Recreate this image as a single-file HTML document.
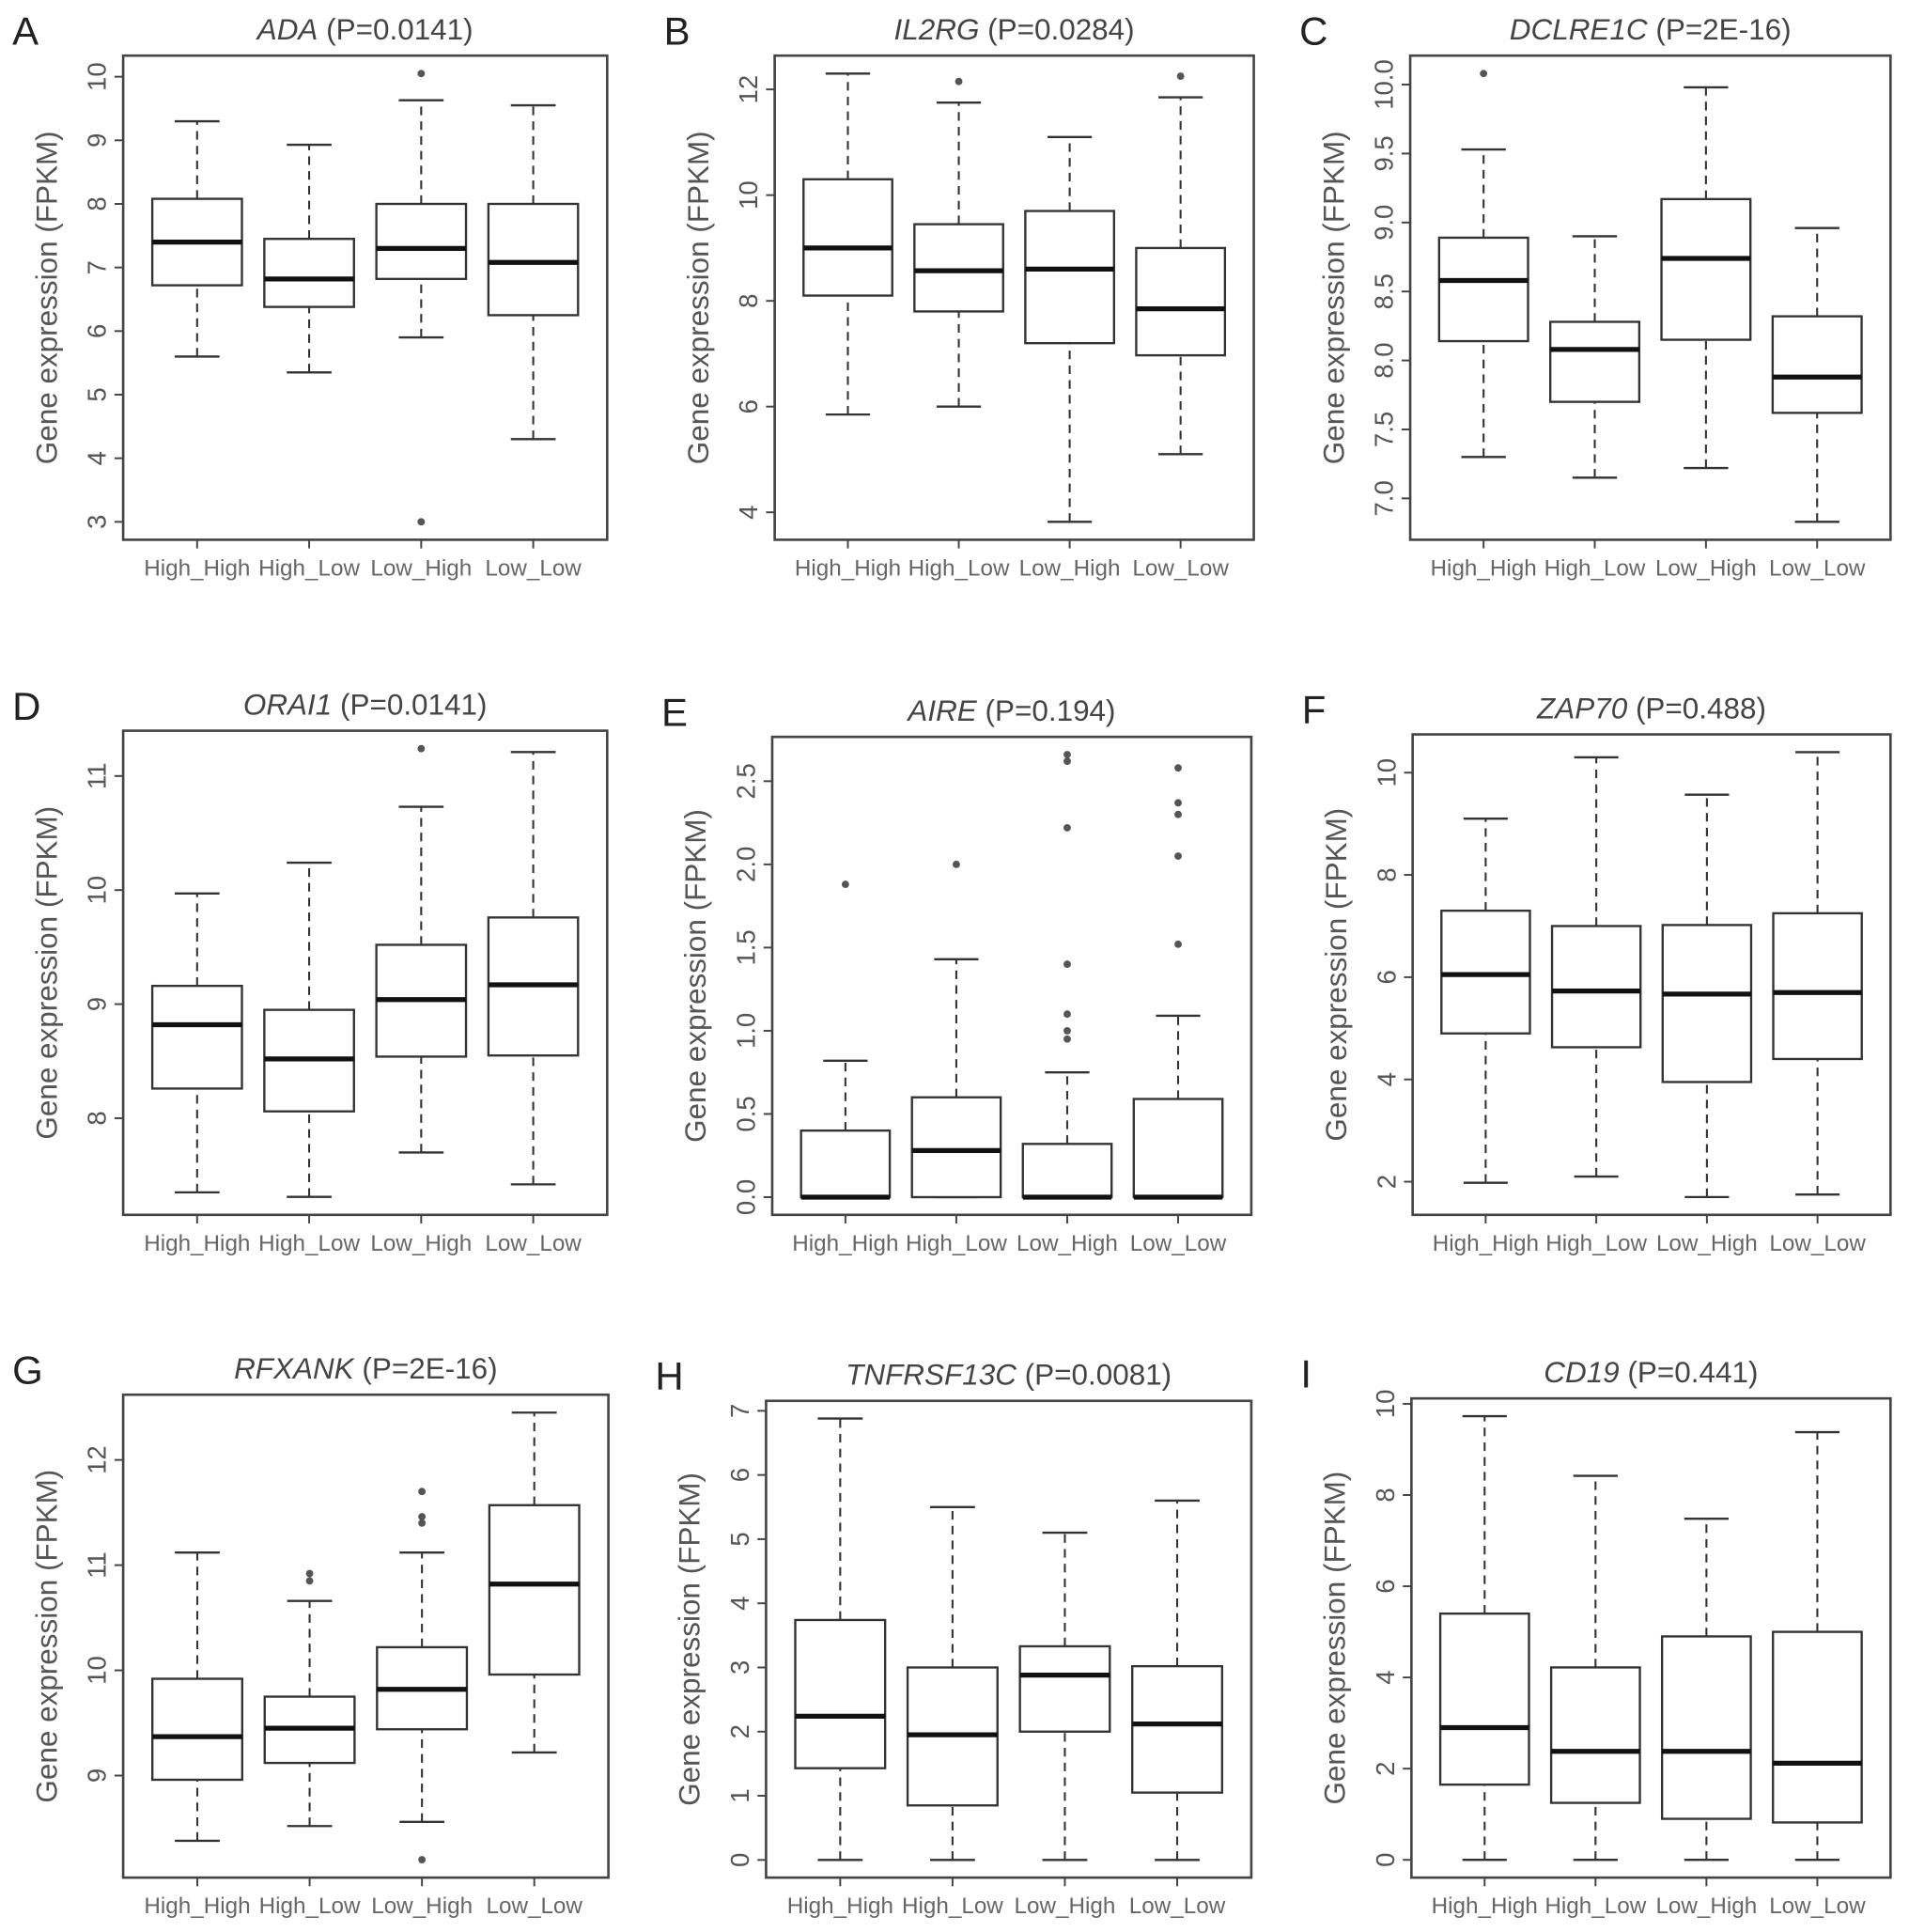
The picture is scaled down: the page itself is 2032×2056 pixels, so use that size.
<!DOCTYPE html>
<html><head><meta charset="utf-8"><style>
html,body{margin:0;padding:0;background:#fff;}
svg{display:block;font-family:"Liberation Sans",sans-serif;}
</style></head><body>
<svg id="fig" width="2032" height="2056" viewBox="0 0 1550 1568" xmlns="http://www.w3.org/2000/svg"></svg>
<script>
const categories = ["High_High","High_Low","Low_High","Low_Low"];
const genes = ["ADA","IL2RG","DCLRE1C","ORAI1","AIRE","ZAP70","RFXANK","TNFRSF13C","CD19"];
const pvalues = ["P=0.0141","P=0.0284","P=2E-16","P=0.0141","P=0.194","P=0.488","P=2E-16","P=0.0081","P=0.441"];
const letters = ["A","B","C","D","E","F","G","H","I"];
// each box: [min, q1, median, q3, max]
const statsA = [[5.6,6.72,7.4,8.08,9.3],[5.35,6.38,6.82,7.45,8.93],[5.9,6.82,7.3,8.0,9.63],[4.3,6.25,7.08,8.0,9.55]];
const outA = [[],[],[10.05,3.0],[]];
const statsB = [[5.85,8.1,9.0,10.3,12.3],[6.0,7.8,8.57,9.45,11.75],[3.82,7.2,8.6,9.7,11.1],[5.1,6.97,7.85,9.0,11.85]];
const outB = [[],[12.15],[],[12.25]];
const statsC = [[7.3,8.14,8.58,8.89,9.53],[7.15,7.7,8.08,8.28,8.9],[7.22,8.15,8.74,9.17,9.98],[6.83,7.62,7.88,8.32,8.96]];
const outC = [[10.08],[],[],[]];
const statsD = [[7.35,8.26,8.82,9.16,9.97],[7.31,8.06,8.52,8.95,10.24],[7.7,8.54,9.04,9.52,10.73],[7.42,8.55,9.17,9.76,11.21]];
const outD = [[],[],[11.24],[]];
const statsE = [[0,0,0,0.4,0.82],[0,0,0.28,0.6,1.43],[0,0,0,0.32,0.75],[0,0,0,0.59,1.09]];
const outE = [[1.88],[2.0],[0.95,1.0,1.1,1.4,2.22,2.62,2.66],[1.52,2.05,2.3,2.37,2.58]];
const statsF = [[1.98,4.9,6.05,7.3,9.1],[2.1,4.63,5.73,7.0,10.3],[1.7,3.95,5.67,7.02,9.57],[1.75,4.4,5.7,7.25,10.4]];
const outF = [[],[],[],[]];
const statsG = [[8.38,8.96,9.37,9.92,11.12],[8.52,9.12,9.45,9.75,10.66],[8.56,9.44,9.82,10.22,11.12],[9.22,9.96,10.82,11.57,12.45]];
const outG = [[],[10.85,10.92],[11.4,11.46,11.7,8.2],[]];
const statsH = [[0,1.43,2.24,3.74,6.88],[0,0.85,1.95,3.0,5.5],[0,2.0,2.88,3.33,5.1],[0,1.05,2.12,3.02,5.6]];
const outH = [[],[],[],[]];
const statsI = [[0,1.65,2.9,5.4,9.73],[0,1.25,2.38,4.22,8.42],[0,0.9,2.38,4.9,7.48],[0,0.82,2.12,5.0,9.38]];
const outI = [[],[],[],[]];
const ticksA = ["3","4","5","6","7","8","9","10"];
const ticksB = ["4","6","8","10","12"];
const ticksC = ["7.0","7.5","8.0","8.5","9.0","9.5","10.0"];
const ticksD = ["8","9","10","11"];
const ticksE = ["0.0","0.5","1.0","1.5","2.0","2.5"];
const ticksF = ["2","4","6","8","10"];
const ticksG = ["9","10","11","12"];
const ticksH = ["0","1","2","3","4","5","6","7"];
const ticksI = ["0","2","4","6","8","10"];

const allStats=[statsA,statsB,statsC,statsD,statsE,statsF,statsG,statsH,statsI];
const allOut=[outA,outB,outC,outD,outE,outF,outG,outH,outI];
const allTicks=[ticksA,ticksB,ticksC,ticksD,ticksE,ticksF,ticksG,ticksH,ticksI];
const rects=[[100,45,493,438],[629,45,1018,438],[1145,45,1535,438],
 [100,593,493,986],[627,598,1016,986],[1147,596,1535,986],
 [100,1132,494,1524],[622,1137,1016,1524],[1146,1135,1535,1524]];
const NS="http://www.w3.org/2000/svg";
const svg=document.getElementById('fig');
function mk(tag,attrs,parent,text){const e=document.createElementNS(NS,tag);for(const k in attrs)e.setAttribute(k,attrs[k]);if(text!==undefined)e.textContent=text;parent.appendChild(e);return e;}

for(let p=0;p<9;p++){
  const [x0,y0,x1,y1]=rects[p];
  const st=allStats[p],out=allOut[p],tk=allTicks[p];
  const g=mk('g',{},svg);
  
  
  let lo=Infinity,hi=-Infinity;
  st.forEach((s,i)=>{lo=Math.min(lo,s[0],...out[i]);hi=Math.max(hi,s[4],...out[i]);});
  const pad=(hi-lo)*0.04;lo-=pad;hi+=pad;
  const y=v=>y1-(v-lo)/(hi-lo)*(y1-y0);
  const xl=0.34,xh=categories.length+0.66;
  const x=v=>x0+(v-xl)/(xh-xl)*(x1-x0);
  const ux=(x1-x0)/(xh-xl);
  const frame=mk('rect',{x:x0,y:y0,width:x1-x0,height:y1-y0,fill:'none',stroke:'#444','stroke-width':2},g);
  
  
  const lt=mk('text',{x:x0-90,y:y0-9,'font-size':32,fill:'#222'},g,letters[p]);
  
  
  const tt=mk('text',{x:(x0+x1)/2,y:y0-13,'font-size':24,fill:'#444','text-anchor':'middle'},g);
  
  
  mk('tspan',{'font-style':'italic'},tt,genes[p]);
  mk('tspan',{},tt,' ('+pvalues[p]+')');
  const yt=mk('text',{transform:`translate(${x0-54},${(y0+y1)/2}) rotate(-90)`,'font-size':24,fill:'#555','text-anchor':'middle'},g,'Gene expression (FPKM)');
  
  
  tk.forEach(t=>{const v=parseFloat(t),yy=y(v);
    const ln=mk('line',{x1:x0,x2:x0-7,y1:yy,y2:yy,stroke:'#444','stroke-width':1.5},g);
    
    
    const tl=mk('text',{transform:`translate(${x0-14},${yy}) rotate(-90)`,'font-size':21,fill:'#555','text-anchor':'middle'},g,t);
    
    
  });
  categories.forEach((c,i)=>{
    const cx=x(i+1),s=st[i];
    const ln=mk('line',{x1:cx,x2:cx,y1:y1,y2:y1+7,stroke:'#444','stroke-width':1.5},g);
    
    
    const cl=mk('text',{x:cx,y:y1+29,'font-size':18.5,fill:'#666','text-anchor':'middle'},g,c);
    
    
    const bg=mk('g',{},g);
    
    
    const hw=0.4*ux,cw=0.2*ux;
    mk('line',{x1:cx,x2:cx,y1:y(s[0]),y2:y(s[1]),stroke:'#333','stroke-width':1.6,'stroke-dasharray':'7 5'},bg);
    mk('line',{x1:cx,x2:cx,y1:y(s[3]),y2:y(s[4]),stroke:'#333','stroke-width':1.6,'stroke-dasharray':'7 5'},bg);
    mk('line',{x1:cx-cw,x2:cx+cw,y1:y(s[0]),y2:y(s[0]),stroke:'#333','stroke-width':1.8},bg);
    mk('line',{x1:cx-cw,x2:cx+cw,y1:y(s[4]),y2:y(s[4]),stroke:'#333','stroke-width':1.8},bg);
    mk('rect',{x:cx-hw,y:y(s[3]),width:2*hw,height:Math.max(0,y(s[1])-y(s[3])),fill:'#fff',stroke:'#333','stroke-width':1.8},bg);
    mk('line',{x1:cx-hw,x2:cx+hw,y1:y(s[2]),y2:y(s[2]),stroke:'#111','stroke-width':4},bg);
    out[i].forEach(o=>{
      const d=mk('circle',{cx:cx,cy:y(o),r:3,fill:'#555'},bg);
      
      
    });
  });
}
</script>
</body></html>
